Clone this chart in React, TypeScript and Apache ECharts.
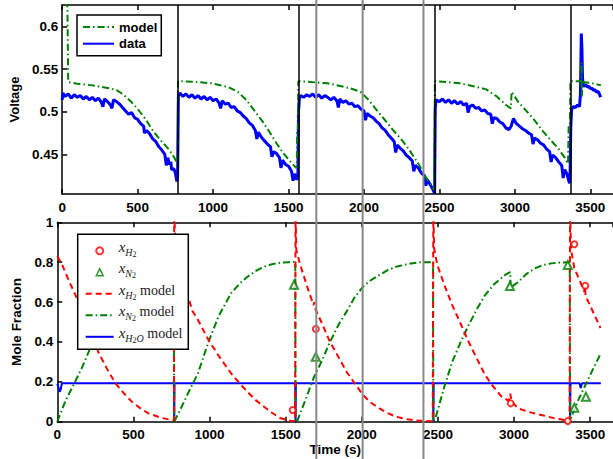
import React, { useEffect, useRef } from "react";
import * as echarts from "echarts";

// ---------- data ----------
const xMax = 3650;
const xTickStep = 500;
const switchTimes = [768, 1565, 2470, 3368];
const grayLineTimes = [1684, 1991, 2394];
const voltageTicks = [0.45, 0.5, 0.55, 0.6];

// model voltage (green dash-dot)
const modelVoltage: [number, number][] = [
  [0, 0.75], [30, 0.7], [36, 0.6], [40, 0.535], [100, 0.533], [200, 0.531], [300, 0.528], [360, 0.5255],
  [400, 0.521], [450, 0.513], [490, 0.5055], [550, 0.492], [600, 0.478], [650, 0.467], [710, 0.455],
  [740, 0.447], [766, 0.438],
  [768, 0.536], [900, 0.535], [990, 0.5334], [1100, 0.529], [1163, 0.5235], [1220, 0.514], [1271, 0.502],
  [1330, 0.488], [1379, 0.4748], [1420, 0.463], [1466, 0.451], [1510, 0.442], [1550, 0.434], [1555, 0.436],
  [1556, 0.476], [1562, 0.478],
  [1565, 0.536], [1760, 0.5334], [1900, 0.528], [1976, 0.5235], [2030, 0.514], [2084, 0.502], [2140, 0.49],
  [2192, 0.4785], [2250, 0.467], [2301, 0.455], [2360, 0.439], [2409, 0.4235], [2453, 0.412], [2466, 0.408],
  [2470, 0.536], [2637, 0.5334], [2750, 0.529], [2810, 0.5263], [2880, 0.518], [2941, 0.508], [2973, 0.504],
  [2978, 0.5235], [3020, 0.512], [3071, 0.502], [3130, 0.49], [3179, 0.4785], [3230, 0.468], [3287, 0.4569],
  [3330, 0.446], [3352, 0.439], [3356, 0.482], [3364, 0.484],
  [3368, 0.536], [3440, 0.536], [3441, 0.558], [3444, 0.518], [3448, 0.535], [3500, 0.534], [3547, 0.532],
  [3570, 0.531],
];

// measured voltage (blue)
const dataVoltage: [number, number][] = [
  [0, 0.514], [5, 0.522], [20, 0.518], [40, 0.521], [60, 0.516], [80, 0.52], [100, 0.517], [120, 0.519],
  [140, 0.515], [160, 0.518], [180, 0.514], [200, 0.517], [220, 0.513], [240, 0.516], [260, 0.511],
  [280, 0.515], [300, 0.512], [320, 0.508], [340, 0.514], [360, 0.512], [380, 0.509], [400, 0.505],
  [420, 0.501], [440, 0.497], [460, 0.499], [480, 0.493], [500, 0.491], [520, 0.486], [540, 0.483],
  [560, 0.478], [580, 0.474], [600, 0.468], [620, 0.465], [640, 0.459], [660, 0.455], [680, 0.45],
  [700, 0.446], [710, 0.438], [720, 0.441], [740, 0.433], [750, 0.428], [760, 0.418], [765, 0.425],
  [770, 0.519], [780, 0.522], [800, 0.518], [820, 0.521], [840, 0.517], [860, 0.52], [880, 0.516],
  [900, 0.519], [920, 0.515], [940, 0.518], [960, 0.514], [980, 0.517], [1000, 0.513], [1020, 0.515],
  [1040, 0.51], [1060, 0.513], [1080, 0.509], [1100, 0.51], [1120, 0.505], [1140, 0.506], [1160, 0.501],
  [1180, 0.499], [1200, 0.495], [1220, 0.492], [1240, 0.487], [1260, 0.484], [1280, 0.478], [1300, 0.476],
  [1320, 0.47], [1340, 0.466], [1360, 0.462], [1380, 0.459], [1400, 0.453], [1420, 0.451], [1440, 0.446],
  [1460, 0.443], [1480, 0.438], [1500, 0.436], [1520, 0.43], [1540, 0.427], [1555, 0.42], [1562, 0.424],
  [1566, 0.5], [1572, 0.516], [1580, 0.519], [1600, 0.517], [1620, 0.52], [1640, 0.518], [1660, 0.521],
  [1680, 0.517], [1700, 0.52], [1720, 0.516], [1740, 0.519], [1760, 0.517], [1780, 0.514], [1800, 0.517],
  [1820, 0.513], [1840, 0.515], [1860, 0.511], [1880, 0.513], [1900, 0.509], [1920, 0.51], [1940, 0.506],
  [1960, 0.507], [1980, 0.503], [2000, 0.501], [2020, 0.498], [2040, 0.495], [2060, 0.493], [2080, 0.489],
  [2100, 0.486], [2120, 0.481], [2140, 0.478], [2160, 0.473], [2180, 0.469], [2200, 0.465], [2220, 0.461],
  [2240, 0.457], [2260, 0.454], [2280, 0.449], [2300, 0.446], [2320, 0.442], [2340, 0.437], [2360, 0.434],
  [2380, 0.428], [2400, 0.425], [2420, 0.42], [2440, 0.414], [2455, 0.409], [2468, 0.404],
  [2472, 0.505], [2478, 0.514], [2500, 0.512], [2520, 0.515], [2540, 0.511], [2560, 0.514], [2580, 0.51],
  [2600, 0.513], [2620, 0.509], [2640, 0.512], [2660, 0.508], [2680, 0.51], [2700, 0.506], [2720, 0.508],
  [2740, 0.504], [2760, 0.505], [2780, 0.501], [2800, 0.502], [2820, 0.498], [2840, 0.497], [2860, 0.493],
  [2880, 0.492], [2900, 0.488], [2920, 0.486], [2940, 0.481], [2960, 0.479], [2975, 0.483], [2990, 0.492],
  [3000, 0.489], [3010, 0.486], [3030, 0.483], [3050, 0.48], [3070, 0.478], [3090, 0.475], [3110, 0.473],
  [3130, 0.469], [3150, 0.467], [3170, 0.463], [3190, 0.461], [3210, 0.456], [3230, 0.453], [3250, 0.449],
  [3270, 0.446], [3290, 0.441], [3310, 0.437], [3330, 0.432], [3345, 0.427], [3355, 0.42], [3362, 0.416],
  [3366, 0.43],
  [3370, 0.48], [3375, 0.502], [3385, 0.506], [3400, 0.505], [3415, 0.508], [3428, 0.506], [3434, 0.52],
  [3440, 0.592], [3444, 0.575], [3448, 0.54], [3452, 0.531], [3460, 0.53], [3470, 0.532], [3480, 0.529],
  [3490, 0.53], [3500, 0.527], [3510, 0.528], [3520, 0.525], [3530, 0.526], [3540, 0.523], [3550, 0.524],
  [3560, 0.521], [3568, 0.517],
];

// isolated noise spikes in the measured voltage
const dataSpikes: [number, number][] = [
  [270, 0.506], [330, 0.504], [545, 0.475], [690, 0.437], [725, 0.432],
  [1050, 0.504], [1290, 0.468], [1390, 0.447], [1450, 0.434], [1530, 0.419],
  [1830, 0.505], [2010, 0.49], [2210, 0.452], [2330, 0.43], [2410, 0.413],
  [2690, 0.499], [2850, 0.486], [3120, 0.462], [3240, 0.441], [3320, 0.422],
];

// mole fraction models
const h2Model: [number, number][] = [
  [0, 0.83], [30, 0.79], [80, 0.7], [164, 0.56], [220, 0.45], [273, 0.343], [330, 0.26], [382, 0.193],
  [440, 0.14], [490, 0.1], [550, 0.065], [598, 0.042], [680, 0.02], [740, 0.01], [766, 0.006],
  [768, 1.05], [775, 0.9], [820, 0.72], [888, 0.555], [924, 0.51], [993, 0.41], [1060, 0.33], [1141, 0.243],
  [1200, 0.19], [1249, 0.15], [1300, 0.11], [1358, 0.075], [1410, 0.045], [1466, 0.017], [1530, 0.005],
  [1562, 0.002],
  [1565, 1.05], [1570, 0.86], [1596, 0.786], [1640, 0.68], [1683, 0.585], [1688, 0.6], [1692, 0.57],
  [1740, 0.49], [1791, 0.4], [1850, 0.32], [1900, 0.25], [1960, 0.185], [2008, 0.134], [2060, 0.095],
  [2116, 0.067], [2170, 0.043], [2225, 0.025], [2300, 0.012], [2377, 0.005], [2466, 0.002],
  [2470, 1.05], [2475, 0.87], [2496, 0.786], [2545, 0.68], [2594, 0.585], [2650, 0.49], [2702, 0.4],
  [2760, 0.31], [2810, 0.234], [2865, 0.175], [2919, 0.125], [2965, 0.105], [2975, 0.14], [2985, 0.1],
  [3027, 0.067], [3100, 0.048], [3179, 0.034], [3260, 0.018], [3331, 0.008], [3365, 0.004],
  [3368, 1.05], [3375, 0.86], [3396, 0.77], [3430, 0.71], [3461, 0.652], [3466, 0.68], [3470, 0.63],
  [3510, 0.565], [3559, 0.485], [3568, 0.47],
];

const n2Model: [number, number][] = [
  [0, 0], [56, 0.109], [110, 0.19], [165, 0.276], [230, 0.393], [300, 0.5], [400, 0.62], [500, 0.7],
  [600, 0.75], [700, 0.78], [766, 0.79],
  [768, 0], [820, 0.08], [870, 0.16], [924, 0.243], [993, 0.4], [1060, 0.53], [1141, 0.644], [1200, 0.695],
  [1249, 0.727], [1300, 0.755], [1358, 0.777], [1410, 0.79], [1466, 0.797], [1520, 0.8], [1563, 0.802],
  [1565, 0], [1574, 0], [1630, 0.11], [1683, 0.218], [1740, 0.31], [1791, 0.4], [1850, 0.49], [1900, 0.552],
  [1950, 0.62], [2008, 0.677], [2060, 0.71], [2116, 0.736], [2170, 0.76], [2225, 0.777], [2300, 0.79],
  [2377, 0.8], [2468, 0.8],
  [2470, 0], [2485, 0.02], [2540, 0.17], [2594, 0.3], [2650, 0.4], [2702, 0.485], [2760, 0.57], [2810, 0.635],
  [2870, 0.69], [2941, 0.736], [2975, 0.75], [2978, 0.66], [2990, 0.68], [3027, 0.7], [3080, 0.74],
  [3136, 0.769], [3190, 0.785], [3244, 0.794], [3300, 0.798], [3352, 0.8], [3366, 0.8],
  [3368, 0], [3380, 0.03], [3417, 0.1], [3460, 0.17], [3510, 0.25], [3559, 0.326], [3568, 0.34],
];

const h2oModel: [number, number][] = [
  [0, 0.19], [8, 0.17], [15, 0.15], [22, 0.16], [30, 0.193], [766, 0.193], [768, 0], [770, 0.193],
  [1563, 0.193], [1565, 0], [1567, 0.193], [2468, 0.193], [2470, 0], [2472, 0.193], [3366, 0.193],
  [3368, 0], [3371, 0.193], [3430, 0.193], [3438, 0.169], [3446, 0.193], [3570, 0.193],
];

// measured mole fractions
const h2Measured: [number, number][] = [
  [1546, 0.059], [1698, 0.465], [2978, 0.092], [3353, 0.003], [3396, 0.89], [3468, 0.682],
];
const n2Measured: [number, number][] = [
  [1555, 0.687], [1698, 0.326], [2973, 0.68], [3353, 0.786], [3396, 0.07], [3472, 0.125],
];

// ---------- styles ----------
const GREEN = "#008000";
const BLUE = "#0000ff";
const RED = "#ff0000";
const FONT = "Liberation Sans";
const SERIF = "Liberation Serif";
const CLEAR = "rgba(0,0,0,0)";

const axisLine = { lineStyle: { color: "#000", width: 1.5 }, onZero: false };
const axisTick = { inside: true, length: 5, lineStyle: { color: "#000", width: 1.5 } };
const labelStyle = { color: "#000", fontWeight: "bold" as const, fontSize: 13.5, fontFamily: FONT };

const gridLeft = 57.3;
const gridRight = -6.4;

const legendNames: Record<string, string> = {
  xH2: "{x|x}{s|H}{ss|2}",
  xN2: "{x|x}{s|N}{ss|2}",
  "xH2 model": "{x|x}{s|H}{ss|2}{m| model}",
  "xN2 model": "{x|x}{s|N}{ss|2}{m| model}",
  "xH2O model": "{x|x}{s|H}{ss|2}{s|O}{m| model}",
};

const hiddenSymbol = { color: CLEAR, borderColor: CLEAR, borderWidth: 0, opacity: 0 };

function buildOption(): any {
  const xCommon = {
    type: "value",
    min: 0,
    max: xMax,
    interval: xTickStep,
    splitLine: { show: false },
    axisLine,
    axisTick,
  };
  const fmt = (v: number) => String(v);
  const measured = [...dataVoltage, ...dataSpikes].sort((a, b) => a[0] - b[0]);
  return {
    animation: false,
    backgroundColor: "#fff",
    grid: [
      { left: gridLeft, right: gridRight, top: 5, height: 189 },
      { left: gridLeft, right: gridRight, top: 222.3, height: 199.4 },
    ],
    xAxis: [
      { ...xCommon, gridIndex: 0, position: "bottom", axisLabel: { ...labelStyle, margin: 6, showMaxLabel: false, formatter: fmt } },
      { ...xCommon, gridIndex: 0, position: "top", axisLabel: { show: false } },
      {
        ...xCommon,
        gridIndex: 1,
        position: "bottom",
        axisLabel: { ...labelStyle, margin: 6, showMaxLabel: false, formatter: fmt },
        name: "Time (s)",
        nameLocation: "middle",
        nameGap: 18,
        nameTextStyle: { ...labelStyle, verticalAlign: "top" },
      },
      { ...xCommon, gridIndex: 1, position: "top", axisLabel: { show: false } },
    ],
    yAxis: [
      {
        type: "value",
        gridIndex: 0,
        min: 0.4033,
        max: 0.6255,
        splitLine: { show: false },
        axisLine,
        axisTick: { ...axisTick, customValues: voltageTicks },
        axisLabel: { ...labelStyle, margin: 4, customValues: voltageTicks, formatter: fmt },
        name: "Voltage",
        nameLocation: "middle",
        nameGap: 34,
        nameTextStyle: { ...labelStyle, fontSize: 13 },
      },
      {
        type: "value",
        gridIndex: 1,
        min: 0,
        max: 1,
        interval: 0.2,
        splitLine: { show: false },
        axisLine,
        axisTick,
        axisLabel: { ...labelStyle, margin: 4, formatter: fmt },
        name: "Mole Fraction",
        nameLocation: "middle",
        nameGap: 29,
        nameTextStyle: { ...labelStyle },
      },
    ],
    legend: [
      {
        data: [
          { name: "model", itemStyle: hiddenSymbol },
          { name: "data", itemStyle: hiddenSymbol },
        ],
        orient: "vertical",
        left: 77,
        top: 15,
        padding: [5, 4, 5, 5],
        itemWidth: 31,
        itemHeight: 7,
        itemGap: 2.7,
        backgroundColor: "#fff",
        borderColor: "#000",
        borderWidth: 1.5,
        borderRadius: 0,
        textStyle: { color: "#000", fontWeight: "bold", fontSize: 13, fontFamily: FONT, lineHeight: 14 },
        z: 10,
      },
      {
        data: [
          { name: "xH2" },
          {
            name: "xN2",
            icon: "path://M0 0M28 7M10.5 7L14 0L17.5 7Z",
            itemStyle: { color: "#fff", borderColor: GREEN, borderWidth: 1.5 },
          },
          { name: "xH2 model", itemStyle: hiddenSymbol },
          { name: "xN2 model", itemStyle: hiddenSymbol },
          { name: "xH2O model", itemStyle: hiddenSymbol },
        ],
        orient: "vertical",
        left: 77.7,
        top: 234.3,
        padding: [5, 6, 5, 7],
        itemWidth: 28,
        itemHeight: 7,
        itemGap: 2.5,
        backgroundColor: "#fff",
        borderColor: "#000",
        borderWidth: 1.5,
        borderRadius: 0,
        formatter: (name: string) => legendNames[name] || name,
        textStyle: {
          color: "#000",
          rich: {
            x: { fontFamily: SERIF, fontStyle: "italic", fontSize: 15, lineHeight: 15, padding: [0, 0, 4, 0], verticalAlign: "bottom", color: "#222" },
            s: { fontFamily: SERIF, fontStyle: "italic", fontSize: 10, lineHeight: 10, padding: [0, 0, 1, 0], verticalAlign: "bottom", color: "#222" },
            ss: { fontFamily: SERIF, fontSize: 8, lineHeight: 8, verticalAlign: "bottom", color: "#222" },
            m: { fontFamily: SERIF, fontSize: 14, lineHeight: 15, padding: [0, 0, 4, 0], verticalAlign: "bottom", color: "#222" },
          },
        },
        z: 10,
      },
    ],
    series: [
      {
        name: "data",
        type: "line",
        xAxisIndex: 0,
        yAxisIndex: 0,
        data: measured,
        symbol: "none",
        color: BLUE,
        lineStyle: { color: BLUE, width: 3 },
        markLine: {
          silent: true,
          symbol: ["none", "none"],
          label: { show: false },
          lineStyle: { color: "#000", width: 1.5, type: "solid" },
          data: switchTimes.map((t) => ({ xAxis: t })),
        },
        z: 2,
      },
      {
        name: "model",
        type: "line",
        xAxisIndex: 0,
        yAxisIndex: 0,
        data: modelVoltage,
        symbol: "none",
        color: GREEN,
        lineStyle: { color: GREEN, width: 2, type: [7, 3, 1.5, 3] },
        z: 3,
      },
      {
        name: "xH2O model",
        type: "line",
        xAxisIndex: 2,
        yAxisIndex: 1,
        data: h2oModel,
        symbol: "none",
        color: BLUE,
        lineStyle: { color: BLUE, width: 2 },
        z: 2,
      },
      {
        name: "xN2 model",
        type: "line",
        xAxisIndex: 2,
        yAxisIndex: 1,
        data: n2Model,
        symbol: "none",
        color: GREEN,
        lineStyle: { color: GREEN, width: 2, type: [7, 3, 1.5, 3] },
        z: 3,
      },
      {
        name: "xH2 model",
        type: "line",
        xAxisIndex: 2,
        yAxisIndex: 1,
        data: h2Model,
        symbol: "none",
        color: RED,
        lineStyle: { color: RED, width: 2, type: [6, 4] },
        z: 4,
      },
      {
        name: "xH2",
        type: "scatter",
        xAxisIndex: 2,
        yAxisIndex: 1,
        data: h2Measured,
        symbol: "emptyCircle",
        symbolSize: 6,
        color: RED,
        itemStyle: { color: RED, borderColor: RED, borderWidth: 1.5 },
        z: 5,
      },
      {
        name: "xN2",
        type: "scatter",
        xAxisIndex: 2,
        yAxisIndex: 1,
        data: n2Measured,
        symbol: "emptyTriangle",
        symbolSize: 8,
        color: GREEN,
        itemStyle: { color: GREEN, borderColor: GREEN, borderWidth: 1.5 },
        z: 5,
      },
    ],
  };
}

export default function App() {
  const ref = useRef<HTMLDivElement>(null);
  useEffect(() => {
    if (!ref.current) return;
    const chart = echarts.init(ref.current, null, { renderer: "svg" });
    chart.setOption(buildOption());
    const lines = grayLineTimes.map((t) => {
      const x = chart.convertToPixel({ xAxisIndex: 0 }, t) as number;
      return {
        type: "line",
        shape: { x1: x, y1: 0, x2: x, y2: 459 },
        style: { stroke: "#888888", lineWidth: 2 },
        z: 100,
        silent: true,
      };
    });
    chart.setOption({ graphic: lines });
    return () => chart.dispose();
  }, []);
  return (
    <div
      ref={ref}
      style={{ position: "absolute", left: 0, top: 0, width: 613, height: 459, background: "#fff" }}
    />
  );
}
